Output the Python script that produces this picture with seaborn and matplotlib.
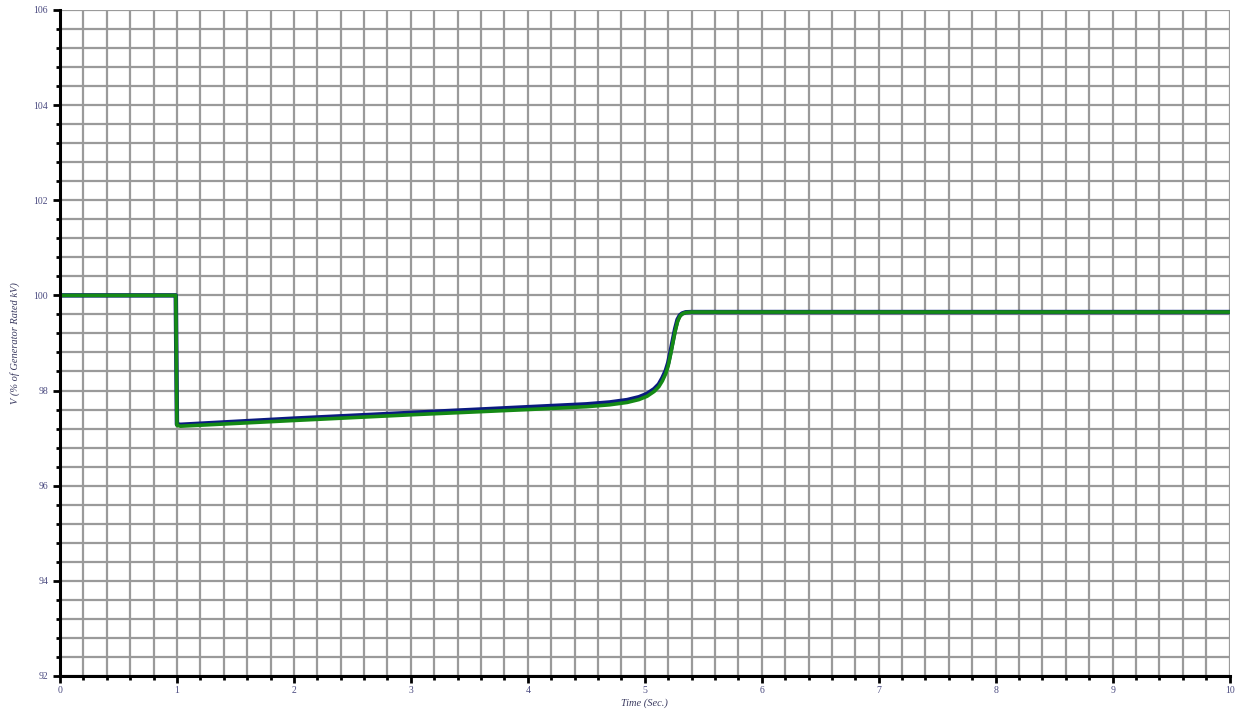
import matplotlib
matplotlib.use("Agg")
import matplotlib.pyplot as plt
import seaborn as sns
import pandas as pd
from matplotlib.ticker import MultipleLocator

# Data
time_s = [0.0, 0.99, 1.0, 1.03, 2.0, 3.0, 4.0, 4.5, 4.7, 4.85, 4.95, 5.02, 5.08, 5.12, 5.15, 5.18, 5.2, 5.22, 5.24, 5.26, 5.28, 5.3, 5.32, 5.35, 5.4, 6.0, 8.0, 10.0]
v_green = [100.0, 100.0, 97.27, 97.25, 97.37, 97.49, 97.6, 97.66, 97.7, 97.75, 97.81, 97.88, 97.98, 98.08, 98.2, 98.36, 98.52, 98.75, 99.0, 99.25, 99.45, 99.56, 99.61, 99.64, 99.65, 99.65, 99.65, 99.65]
v_blue = [100.0, 100.0, 97.29, 97.28, 97.41, 97.53, 97.65, 97.71, 97.75, 97.8, 97.86, 97.93, 98.03, 98.13, 98.26, 98.42, 98.58, 98.81, 99.06, 99.3, 99.49, 99.58, 99.62, 99.645, 99.65, 99.65, 99.65, 99.65]
y_ticks = [92, 94, 96, 98, 100, 102, 104, 106]
x_ticks = [0, 1, 2, 3, 4, 5, 6, 7, 8, 9, 10]

sns.set_theme(style="white")
plt.rcParams['font.family'] = ['Liberation Serif', 'DejaVu Serif']

fig = plt.figure(figsize=(12.42, 7.13), dpi=100)
ax = fig.add_axes([0.0483, 0.052, 0.9417, 0.934])

df_b = pd.DataFrame({"t": time_s, "v": v_blue})
df_g = pd.DataFrame({"t": time_s, "v": v_green})
sns.lineplot(data=df_b, x="t", y="v", ax=ax, color="#0a1a80", linewidth=3.2, sort=False, estimator=None, zorder=3)
sns.lineplot(data=df_g, x="t", y="v", ax=ax, color="#158a15", linewidth=2.6, sort=False, estimator=None, zorder=4)

ax.set_xlim(0, 10)
ax.set_ylim(92, 106)
ax.set_xticks(x_ticks)
ax.set_yticks(y_ticks)
ax.xaxis.set_minor_locator(MultipleLocator(0.2))
ax.yaxis.set_minor_locator(MultipleLocator(0.4))
ax.grid(True, which="both", color="#9a9a9a", linewidth=1.6)
ax.set_axisbelow(True)

for s in ["top", "right"]:
    ax.spines[s].set_visible(False)
for s in ["left", "bottom"]:
    ax.spines[s].set_color("black")
    ax.spines[s].set_linewidth(2.2)
    ax.spines[s].set_zorder(5)

ax.tick_params(which="major", direction="out", length=5, width=2, color="black",
               labelsize=7, labelcolor="#4a4a80", left=True, bottom=True)
ax.tick_params(which="minor", direction="out", length=3, width=2, color="black", left=True, bottom=True)
ax.tick_params(axis="x", which="major", pad=2)

ax.set_xlabel("Time (Sec.)", fontsize=7.5, style="italic", color="#3a3a60", labelpad=3)
ax.set_ylabel("V (% of Generator Rated kV)", fontsize=7.5, style="italic", color="#3a3a60", labelpad=10)

fig.savefig("out.png", dpi=100)
